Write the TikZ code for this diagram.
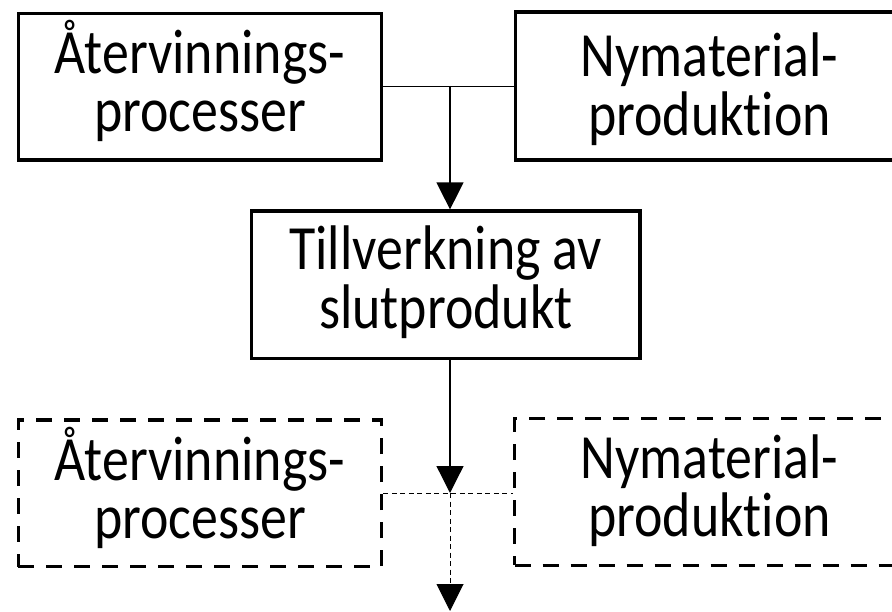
\documentclass[tikz,border=0pt]{standalone}
\usepackage{fontspec}
\setmainfont{Carlito}[FakeStretch=0.855, Ligatures=NoCommon]
\usetikzlibrary{arrows.meta}
\tikzset{
  box/.style={draw, line width=3.3pt, inner sep=0pt, align=center,
    font=\fontsize{63}{58.5}\selectfont, text height=#1, text depth=13pt},
  solidbox/.style={box=#1},
  dashbox/.style={box=#1, dash pattern=on 16pt off 12pt},
  conn/.style={line width=1.3pt, -{Triangle[width=27pt,length=27pt]}},
  link/.style={line width=1.3pt},
  dlink/.style={line width=1pt, dash pattern=on 5pt off 3.5pt},
}
\begin{document}
\begin{tikzpicture}[x=1pt,y=-1pt]
\useasboundingbox (0,0) rectangle (892,612);
\clip (0,0) rectangle (892,612);
\node[solidbox=103.4pt, minimum width=363.4pt, minimum height=146.7pt] (L1) at (200,86.7) {Återvinnings-\\processer};
\node[solidbox=112pt, minimum width=387.6pt, minimum height=148pt] (R1) at (709.5,86) {Nymaterial-\\produktion};
\node[solidbox=100.6pt, minimum width=388.3pt, minimum height=147.3pt] (M) at (445.8,284.7) {Tillverkning av\\slutprodukt};
\node[dashbox=103.4pt, minimum width=363.4pt, minimum height=146.7pt] (L2) at (200,493.3) {Återvinnings-\\processer};
\node[dashbox=102pt, minimum width=390pt, minimum height=146.6pt] (R2) at (709.5,492) {Nymaterial-\\produktion};
\coordinate (j1) at (450,86);
\coordinate (j2) at (450,493);
\coordinate (out) at (450,611);
\draw[link] (L1.east) -- (L1.east -| R1.west);
\draw[conn] (j1) -- (j1 |- M.north);
\draw[conn] (j2 |- M.south) -- (j2);
\draw[dlink] (L2.east) -- (L2.east -| R2.west);
\draw[dlink, -{Triangle[width=27pt,length=27pt]}] (j2) -- (out);
\end{tikzpicture}
\end{document}
